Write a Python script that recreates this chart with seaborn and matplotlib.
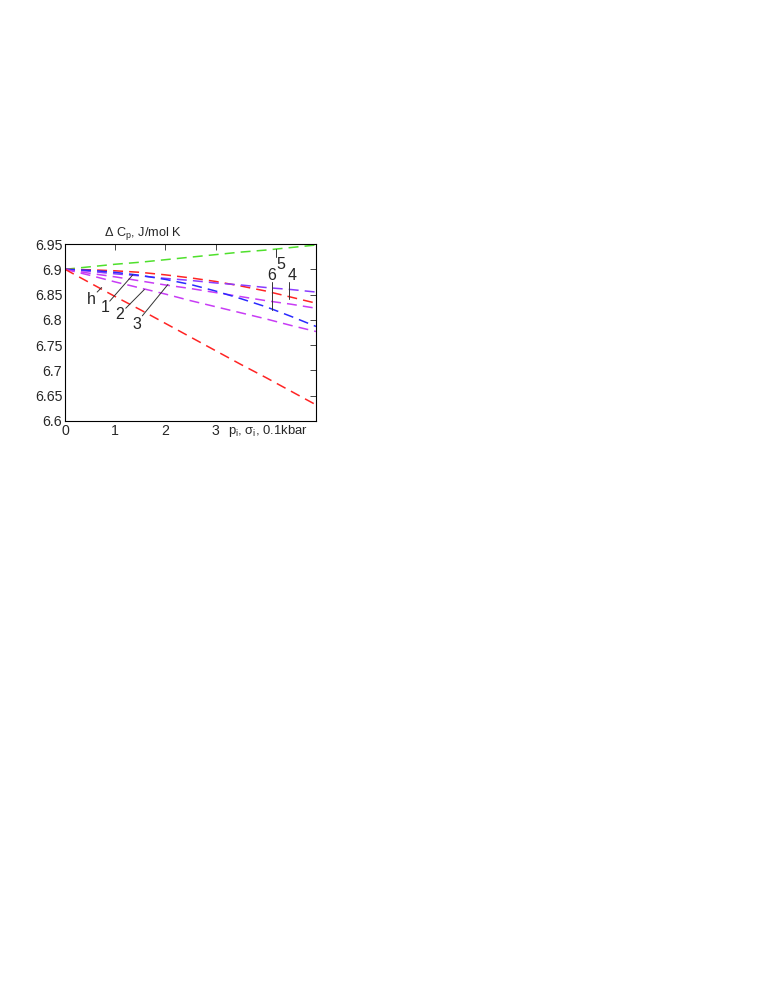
import pandas as pd
import matplotlib
matplotlib.use("Agg")
import matplotlib.pyplot as plt
import seaborn as sns

# values
x_vals = [0, 0.5, 1, 1.5, 2, 2.5, 3, 3.5, 4, 4.5, 5]
curve_5 = [6.900, 6.905, 6.910, 6.914, 6.919, 6.924, 6.929, 6.934, 6.938, 6.943, 6.948]
curve_4 = [6.900, 6.899, 6.897, 6.894, 6.889, 6.883, 6.876, 6.867, 6.857, 6.845, 6.833]
curve_1 = [6.900, 6.896, 6.891, 6.887, 6.882, 6.878, 6.873, 6.869, 6.864, 6.860, 6.855]
curve_3 = [6.900, 6.892, 6.885, 6.877, 6.869, 6.862, 6.854, 6.846, 6.838, 6.831, 6.823]
curve_6 = [6.900, 6.898, 6.894, 6.888, 6.880, 6.870, 6.857, 6.842, 6.826, 6.807, 6.787]
curve_2 = [6.900, 6.888, 6.875, 6.863, 6.851, 6.838, 6.826, 6.814, 6.802, 6.789, 6.777]
curve_h = [6.900, 6.873, 6.846, 6.820, 6.793, 6.766, 6.739, 6.712, 6.686, 6.659, 6.632]

series = {"5": curve_5, "4": curve_4, "1": curve_1, "3": curve_3,
          "6": curve_6, "2": curve_2, "h": curve_h}
colors = {"5": "#4fe02c", "4": "#ff2424", "1": "#8a3cff", "3": "#c83cf5",
          "6": "#2a2aff", "2": "#c83cf5", "h": "#ff2424"}

y_ticks = [6.6, 6.65, 6.7, 6.75, 6.8, 6.85, 6.9, 6.95]
y_tick_labels = ["6.6", "6.65", "6.7", "6.75", "6.8", "6.85", "6.9", "6.95"]
x_ticks = [0, 1, 2, 3]
x_tick_labels = ["0", "1", "2", "3"]

# curve labels: text position and leader line (data coords)
label_names = ["h", "1", "2", "3", "6", "4", "5"]
label_pos = [(0.52, 6.841), (0.79, 6.824), (1.09, 6.810), (1.43, 6.791),
             (4.12, 6.887), (4.53, 6.887), (4.30, 6.909)]
leader_from = [(0.64, 6.855), (0.89, 6.837), (1.21, 6.823), (1.54, 6.808),
               (4.12, 6.874), (4.47, 6.874), (4.20, 6.925)]
leader_to = [(0.73, 6.864), (1.35, 6.889), (1.58, 6.860), (2.05, 6.870),
             (4.12, 6.819), (4.47, 6.841), (4.20, 6.941)]

rows = []
for name, vals in series.items():
    for xv, yv in zip(x_vals, vals):
        rows.append({"x": xv, "y": yv, "curve": name})
df = pd.DataFrame(rows)

sns.set_style("white")
plt.rcParams["font.family"] = ["Liberation Sans", "DejaVu Sans"]
plt.rcParams["mathtext.fontset"] = "custom"
plt.rcParams["mathtext.rm"] = "Liberation Sans"
plt.rcParams["mathtext.it"] = "Liberation Sans"

fig = plt.figure(figsize=(7.77, 10.05), dpi=100)
ax = fig.add_axes([0.0837, 0.5811, 0.3230, 0.1761])

for name in series:
    sns.lineplot(data=df[df["curve"] == name], x="x", y="y", ax=ax,
                 color=colors[name], linewidth=1.1, linestyle=(0, (6.5, 4)),
                 legend=False)

for name, tp, lf, lt in zip(label_names, label_pos, leader_from, leader_to):
    ax.plot([lf[0], lt[0]], [lf[1], lt[1]], color="#333333", linewidth=0.7)
    ax.text(tp[0], tp[1], name, fontsize=11.5, ha="center", va="center")

ax.set_xlim(0, 5)
ax.set_ylim(6.6, 6.95)
ax.set_xticks(x_ticks)
ax.set_xticklabels(x_tick_labels)
ax.set_yticks(y_ticks)
ax.set_yticklabels(y_tick_labels)
ax.tick_params(direction="in", length=4, width=0.6, labelsize=10.2,
               top=True, right=True, pad=2)
for sp in ax.spines.values():
    sp.set_color("black")
    sp.set_linewidth(0.8)
ax.set_xlabel("")
ax.set_ylabel("")

ax.text(3.24, -0.012, r"p$_i$, $\sigma_i$, 0.1kbar", transform=ax.get_xaxis_transform(),
        fontsize=9.4, ha="left", va="top")
ax.text(1.55, 6.953, r"$\Delta$ C$_p$, J/mol K", fontsize=9.2, ha="center", va="bottom")

fig.savefig("out.png", dpi=100)
